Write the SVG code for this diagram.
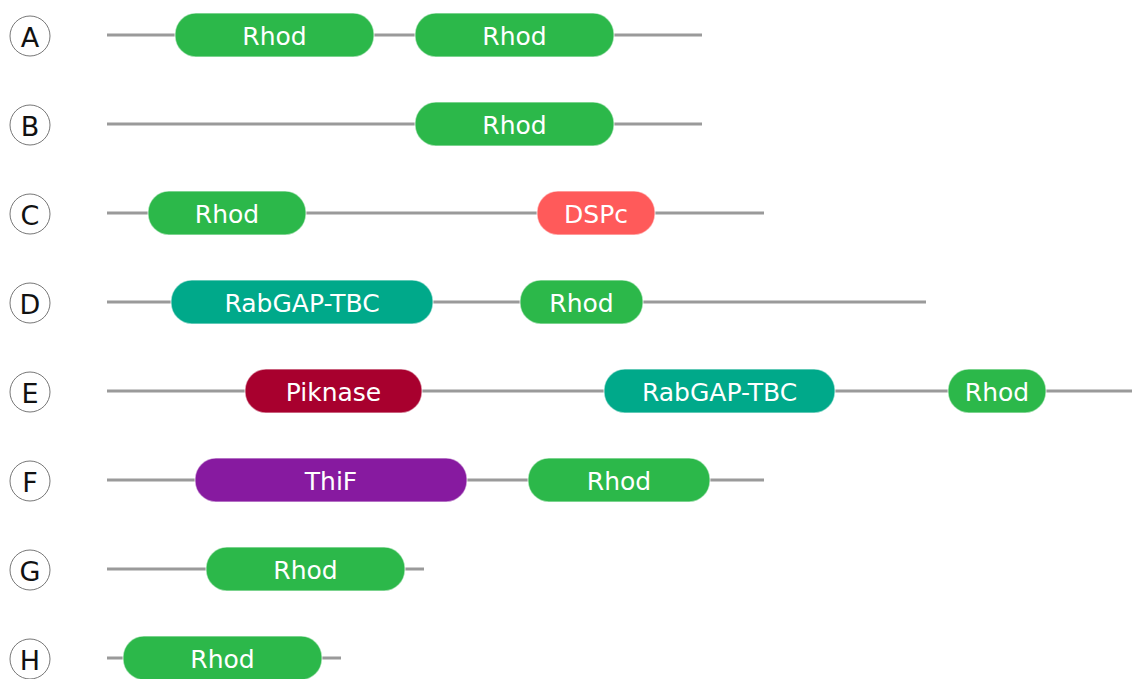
<svg xmlns="http://www.w3.org/2000/svg" width="1132" height="679" viewBox="0 0 1132 679">
  <style>
    .bg { fill: #ffffff; }
    .track { stroke: #9a9a9a; stroke-width: 3; fill: none; }
    .tag circle { fill: #ffffff; stroke: #777777; stroke-width: 1; }
    .tag text { font-family: "DejaVu Sans", sans-serif; font-size: 27px; fill: #111111; text-anchor: middle; dominant-baseline: central; }
    .dom rect { stroke: #ffffff; stroke-opacity: 0.5; stroke-width: 1.5; }
    .dom text { font-family: "DejaVu Sans", sans-serif; font-size: 25px; fill: #ffffff; text-anchor: middle; dominant-baseline: central; }
    .rhod rect { fill: #2cb84a; }
    .dspc rect { fill: #ff5a5a; }
    .rabgap rect { fill: #00a98a; }
    .piknase rect { fill: #a8002e; }
    .thif rect { fill: #871aa0; }
  </style>
  <rect class="bg" x="0" y="0" width="1132" height="679"/>

  <!-- protein backbones -->
  <g id="connectors">
    <line class="track" x1="107" y1="35" x2="702" y2="35"/>
    <line class="track" x1="107" y1="124" x2="702" y2="124"/>
    <line class="track" x1="107" y1="213" x2="764" y2="213"/>
    <line class="track" x1="107" y1="302" x2="926" y2="302"/>
    <line class="track" x1="107" y1="391" x2="1132" y2="391"/>
    <line class="track" x1="107" y1="480" x2="764" y2="480"/>
    <line class="track" x1="107" y1="569" x2="424" y2="569"/>
    <line class="track" x1="107" y1="658" x2="341" y2="658"/>
  </g>

  <!-- row tags -->
  <g id="tag-A" class="tag"><circle cx="30" cy="36" r="20"/><text x="30" y="37">A</text></g>
  <g id="tag-B" class="tag"><circle cx="30" cy="125" r="20"/><text x="30" y="126">B</text></g>
  <g id="tag-C" class="tag"><circle cx="30" cy="214" r="20"/><text x="30" y="215">C</text></g>
  <g id="tag-D" class="tag"><circle cx="30" cy="303" r="20"/><text x="30" y="304">D</text></g>
  <g id="tag-E" class="tag"><circle cx="30" cy="392" r="20"/><text x="30" y="393">E</text></g>
  <g id="tag-F" class="tag"><circle cx="30" cy="481" r="20"/><text x="30" y="482">F</text></g>
  <g id="tag-G" class="tag"><circle cx="30" cy="570" r="20"/><text x="30" y="571">G</text></g>
  <g id="tag-H" class="tag"><circle cx="30" cy="659" r="20"/><text x="30" y="660">H</text></g>

  <!-- A -->
  <g id="A-rhod-1" class="dom rhod"><rect x="175" y="13" width="199" height="44" rx="21"/><text x="274.5" y="36">Rhod</text></g>
  <g id="A-rhod-2" class="dom rhod"><rect x="415" y="13" width="199" height="44" rx="21"/><text x="514.5" y="36">Rhod</text></g>
  <!-- B -->
  <g id="B-rhod" class="dom rhod"><rect x="415" y="102" width="199" height="44" rx="21"/><text x="514.5" y="125">Rhod</text></g>
  <!-- C -->
  <g id="C-rhod" class="dom rhod"><rect x="148" y="191" width="158" height="44" rx="21"/><text x="227" y="214">Rhod</text></g>
  <g id="C-dspc" class="dom dspc"><rect x="537" y="191" width="118" height="44" rx="21"/><text x="596" y="214">DSPc</text></g>
  <!-- D -->
  <g id="D-rabgap" class="dom rabgap"><rect x="171" y="280" width="262" height="44" rx="21"/><text x="302" y="303">RabGAP-TBC</text></g>
  <g id="D-rhod" class="dom rhod"><rect x="520" y="280" width="123" height="44" rx="21"/><text x="581.5" y="303">Rhod</text></g>
  <!-- E -->
  <g id="E-piknase" class="dom piknase"><rect x="245" y="369" width="177" height="44" rx="21"/><text x="333.5" y="392">Piknase</text></g>
  <g id="E-rabgap" class="dom rabgap"><rect x="604" y="369" width="231" height="44" rx="21"/><text x="719.5" y="392">RabGAP-TBC</text></g>
  <g id="E-rhod" class="dom rhod"><rect x="948" y="369" width="98" height="44" rx="21"/><text x="997" y="392">Rhod</text></g>
  <!-- F -->
  <g id="F-thif" class="dom thif"><rect x="195" y="458" width="272" height="44" rx="21"/><text x="331" y="481">ThiF</text></g>
  <g id="F-rhod" class="dom rhod"><rect x="528" y="458" width="182" height="44" rx="21"/><text x="619" y="481">Rhod</text></g>
  <!-- G -->
  <g id="G-rhod" class="dom rhod"><rect x="206" y="547" width="199" height="44" rx="21"/><text x="305.5" y="570">Rhod</text></g>
  <!-- H -->
  <g id="H-rhod" class="dom rhod"><rect x="123" y="636" width="199" height="44" rx="21"/><text x="222.5" y="659">Rhod</text></g>
</svg>
